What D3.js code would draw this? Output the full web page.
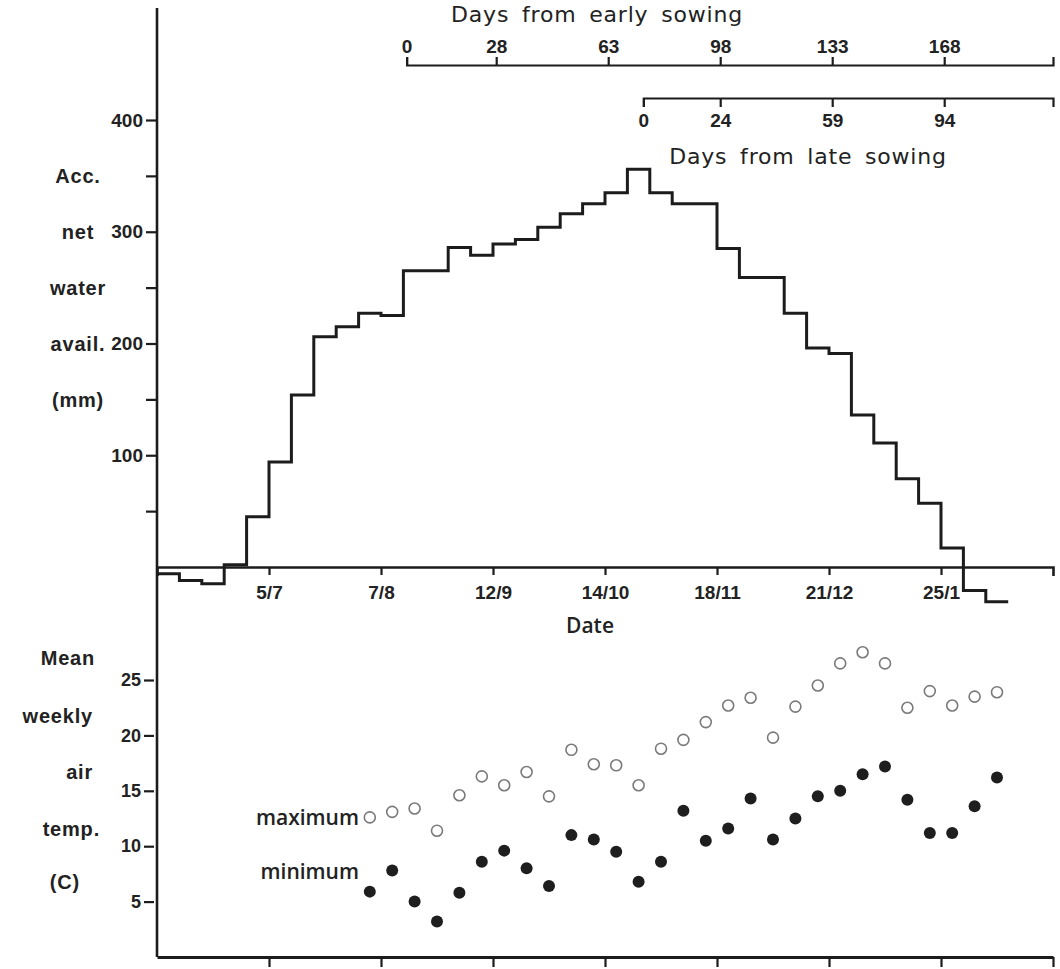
<!DOCTYPE html>
<html>
<head>
<meta charset="utf-8">
<script src="https://cdn.jsdelivr.net/npm/d3@7.9.0/dist/d3.min.js"></script>
<style>
  body { margin: 0; background: #fff; }
  svg text { fill: #222; }
</style>
</head>
<body>
<svg id="chart" width="1060" height="969"></svg>
<script>
// weekly accumulated net water availability (mm), one value per week from the start of the date axis
const waterValues = [-6, -12, -15, 2, 45, 94, 154, 206, 215, 227, 225, 265, 265, 286, 279, 289, 293, 304, 316, 325,
  335, 356, 335, 325, 325, 285, 259, 259, 227, 196, 191, 136, 111, 79, 57, 17, -21, -31];

// mean weekly air temperature (C), starting at week 9
const tempFirstWeek = 9;
const maxTemp = [12.6, 13.1, 13.4, 11.4, 14.6, 16.3, 15.5, 16.7, 14.5, 18.7, 17.4, 17.3, 15.5, 18.8, 19.6,
  21.2, 22.7, 23.4, 19.8, 22.6, 24.5, 26.5, 27.5, 26.5, 22.5, 24.0, 22.7, 23.5, 23.9];
const minTemp = [5.9, 7.8, 5.0, 3.2, 5.8, 8.6, 9.6, 8.0, 6.4, 11.0, 10.6, 9.5, 6.8, 8.6, 13.2,
  10.5, 11.6, 14.3, 10.6, 12.5, 14.5, 15.0, 16.5, 17.2, 14.2, 11.2, 11.2, 13.6, 16.2];

// date axis: tick positions (weeks) and labels
const dateTickWeeks = [5, 10, 15, 20, 25, 30, 35];
const dateTickLabels = ["5/7", "7/8", "12/9", "14/10", "18/11", "21/12", "25/1"];
const tempBottomTicks = [5, 10, 15, 20, 25, 30, 35, 40];

// days from sowing axes
const earlyTicks = [0, 28, 63, 98, 133, 168];
const lateTicks = [0, 24, 59, 94];
const earlyOffsetDays = 78;
const lateOffsetDays = 152;

const waterTicks = [50, 100, 150, 200, 250, 300, 350, 400];
const tempTicks = [5, 10, 15, 20, 25];

const waterLabels = ["Acc.", "net", "water", "avail.", "(mm)"];
const tempLabels = ["Mean", "weekly", "air", "temp.", "(C)"];

const svg = d3.select("#chart");
const ink = "#1c1c1c";
const tickFont = "'Liberation Sans', Arial, sans-serif";

const x0 = 157, x1 = 1053;
const xWeek = d3.scaleLinear().domain([0, 40]).range([x0, x1]);
const xDay = d3.scaleLinear().domain([0, 280]).range([x0, x1]);
const yWater = d3.scaleLinear().domain([0, 400]).range([567, 120]);
const yTemp = d3.scaleLinear().domain([0, 25]).range([957, 680]);

function styleAxis(g, size) {
  g.selectAll("path, line").attr("stroke", ink).attr("stroke-width", 2.2);
  g.selectAll("text")
    .attr("fill", ink)
    .attr("font-family", tickFont)
    .attr("font-weight", "bold")
    .attr("font-size", size || "19px");
}

// ===== LEFT VERTICAL AXIS =====
svg.append("line")
  .attr("x1", x0).attr("x2", x0)
  .attr("y1", 8).attr("y2", yTemp(0))
  .attr("stroke", ink).attr("stroke-width", 2.6);

const waterAxis = svg.append("g")
  .attr("transform", `translate(${x0},0)`)
  .call(d3.axisLeft(yWater).tickValues(waterTicks).tickSize(11).tickPadding(3)
    .tickFormat(d => d % 100 === 0 ? d : ""));
waterAxis.select(".domain").remove();
styleAxis(waterAxis);

const tempAxis = svg.append("g")
  .attr("transform", `translate(${x0 - 3},0)`)
  .call(d3.axisLeft(yTemp).tickValues(tempTicks).tickSize(10).tickPadding(3));
tempAxis.select(".domain").remove();
styleAxis(tempAxis, "18px");

// ===== DATE AXIS (zero line of top panel) =====
const dateAxis = svg.append("g")
  .attr("transform", `translate(0,${yWater(0)})`)
  .call(d3.axisBottom(xWeek).tickValues(dateTickWeeks).tickSize(8).tickSizeOuter(9).tickPadding(11)
    .tickFormat((d, i) => dateTickLabels[i]));
styleAxis(dateAxis);
dateAxis.select(".domain").attr("stroke-width", 2.6);

svg.append("text")
  .attr("x", 590).attr("y", 633)
  .attr("text-anchor", "middle")
  .attr("font-family", "'Open Sans', sans-serif")
  .attr("font-weight", 600)
  .attr("font-size", "21px")
  .text("Date");

// ===== TEMPERATURE BOTTOM AXIS =====
const tempX = svg.append("g")
  .attr("transform", `translate(0,${yTemp(0)})`)
  .call(d3.axisBottom(xWeek).tickValues(tempBottomTicks).tickSize(10).tickSizeOuter(0).tickFormat(""));
styleAxis(tempX);
tempX.select(".domain").attr("stroke-width", 3);

// ===== DAYS FROM SOWING AXES =====
const xEarly = d3.scaleLinear().domain([0, 280 - earlyOffsetDays])
  .range([xDay(earlyOffsetDays), xDay(280)]);
const earlyAxis = svg.append("g")
  .attr("transform", "translate(0,65)")
  .call(d3.axisTop(xEarly).tickValues(earlyTicks).tickSize(8).tickSizeOuter(8).tickPadding(4));
styleAxis(earlyAxis);

const xLate = d3.scaleLinear().domain([0, 280 - lateOffsetDays])
  .range([xDay(lateOffsetDays), xDay(280)]);
const lateAxis = svg.append("g")
  .attr("transform", "translate(0,98)")
  .call(d3.axisBottom(xLate).tickValues(lateTicks).tickSize(9).tickSizeOuter(9).tickPadding(7));
styleAxis(lateAxis);

svg.append("text")
  .attr("x", 597).attr("y", 22)
  .attr("text-anchor", "middle")
  .attr("font-family", "'DejaVu Sans', sans-serif")
  .attr("font-size", "22px")
  .attr("letter-spacing", "0.8px")
  .attr("word-spacing", "5px")
  .text("Days from  early sowing");

svg.append("text")
  .attr("x", 808).attr("y", 164)
  .attr("text-anchor", "middle")
  .attr("font-family", "'DejaVu Sans', sans-serif")
  .attr("font-size", "22px")
  .attr("letter-spacing", "0.8px")
  .attr("word-spacing", "5px")
  .text("Days from late sowing");

// ===== SIDE CAPTIONS =====
const waterLabelY = [176, 232, 288, 344, 400];
svg.selectAll(".water-label")
  .data(waterLabels)
  .enter().append("text")
  .attr("class", "water-label")
  .attr("x", 78)
  .attr("y", (d, i) => waterLabelY[i] + 7)
  .attr("text-anchor", "middle")
  .attr("font-family", tickFont)
  .attr("font-weight", "bold")
  .attr("font-size", "20px")
  .attr("letter-spacing", "0.8px")
  .text(d => d);

const tempLabelY = [658, 716, 772, 829, 882];
const tempLabelX = [95, 93, 93, 100, 80];
svg.selectAll(".temp-label")
  .data(tempLabels)
  .enter().append("text")
  .attr("class", "temp-label")
  .attr("x", (d, i) => tempLabelX[i])
  .attr("y", (d, i) => tempLabelY[i] + 7)
  .attr("text-anchor", "end")
  .attr("font-family", tickFont)
  .attr("font-weight", "bold")
  .attr("font-size", "20px")
  .attr("letter-spacing", "0.8px")
  .text(d => d);

// ===== WATER STEP LINE =====
const stepPoints = waterValues.map((v, i) => [i, v]);
stepPoints.push([waterValues.length, waterValues[waterValues.length - 1]]);

const stepLine = d3.line()
  .x(d => xWeek(d[0]))
  .y(d => yWater(d[1]))
  .curve(d3.curveStepAfter);

svg.append("path")
  .datum(stepPoints)
  .attr("fill", "none")
  .attr("stroke", ink)
  .attr("stroke-width", 3)
  .attr("stroke-linejoin", "miter")
  .attr("d", stepLine);

// ===== TEMPERATURE POINTS =====
svg.selectAll(".tmax")
  .data(maxTemp)
  .enter().append("circle")
  .attr("class", "tmax")
  .attr("cx", (d, i) => xWeek(tempFirstWeek + i + 0.5))
  .attr("cy", d => yTemp(d))
  .attr("r", 5.5)
  .attr("fill", "#fff")
  .attr("stroke", "#7a7a7a")
  .attr("stroke-width", 1.6);

svg.selectAll(".tmin")
  .data(minTemp)
  .enter().append("circle")
  .attr("class", "tmin")
  .attr("cx", (d, i) => xWeek(tempFirstWeek + i + 0.5))
  .attr("cy", d => yTemp(d))
  .attr("r", 6)
  .attr("fill", "#1e1e1e");

svg.append("text")
  .attr("x", 359).attr("y", 825)
  .attr("text-anchor", "end")
  .attr("font-family", "'Open Sans', sans-serif")
  .attr("font-weight", 600)
  .attr("font-size", "21px")
  .text("maximum");

svg.append("text")
  .attr("x", 359).attr("y", 879)
  .attr("text-anchor", "end")
  .attr("font-family", "'Open Sans', sans-serif")
  .attr("font-weight", 600)
  .attr("font-size", "21px")
  .text("minimum");
</script>
</body>
</html>
